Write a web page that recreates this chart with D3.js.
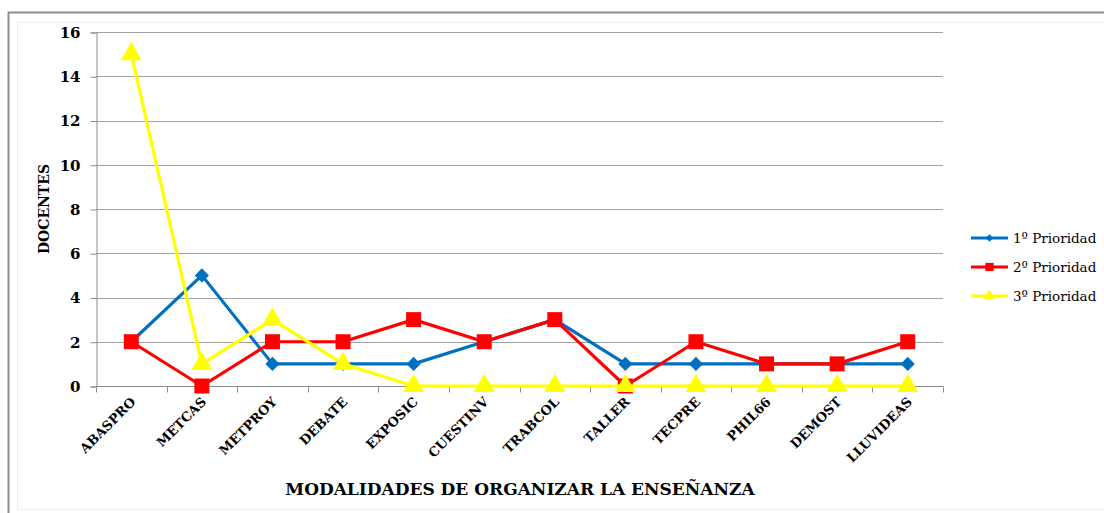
<!DOCTYPE html>
<html>
<head>
<meta charset="utf-8">
<script src="https://cdn.jsdelivr.net/npm/d3@7"></script>
<style>
  body { margin: 0; background: #fff; }
  svg text { font-family: "DejaVu Serif", "Liberation Serif", serif; }
</style>
</head>
<body>
<svg id="chart" width="1104" height="513"></svg>
<script>
var categories = ['ABASPRO', 'METCAS', 'METPROY', 'DEBATE', 'EXPOSIC', 'CUESTINV',
  'TRABCOL', 'TALLER', 'TECPRE', 'PHIL66', 'DEMOST', 'LLUVIDEAS'];
var prioridad1 = [2, 5, 1, 1, 1, 2, 3, 1, 1, 1, 1, 1];
var prioridad2 = [2, 0, 2, 2, 3, 2, 3, 0, 2, 1, 1, 2];
var prioridad3 = [15, 1, 3, 1, 0, 0, 0, 0, 0, 0, 0, 0];
var seriesNames = ['1º Prioridad', '2º Prioridad', '3º Prioridad'];
var yTicks = [0, 2, 4, 6, 8, 10, 12, 14, 16];

// diamond = square turned 45 degrees
var series = [
  {name: seriesNames[0], values: prioridad1, color: '#0070C0', symbol: d3.symbolSquare, size: 100, rot: 45},
  {name: seriesNames[1], values: prioridad2, color: '#FF0000', symbol: d3.symbolSquare, size: 225, rot: 0},
  {name: seriesNames[2], values: prioridad3, color: '#FFFF00', symbol: d3.symbolTriangle, size: 190, rot: 0}
];

var svg = d3.select('#chart');

// chart frame (double border like the original)
svg.append('rect').attr('x', 8.5).attr('y', 12.5).attr('width', 1110).attr('height', 520)
  .attr('fill', 'none').attr('stroke', '#8c8c8c').attr('stroke-width', 2);
svg.append('rect').attr('x', 17.5).attr('y', 22.5).attr('width', 1100).attr('height', 487)
  .attr('fill', 'none').attr('stroke', '#ececec').attr('stroke-width', 1);

var plotLeft = 96, plotRight = 943, plotTop = 32, plotBottom = 386;

var x = d3.scaleBand().domain(categories).range([plotLeft, plotRight]);
var y = d3.scaleLinear().domain([0, 16]).range([plotBottom, plotTop]);

// gridlines
svg.append('g').selectAll('line').data(yTicks.filter(function (d) { return d > 0; })).join('line')
  .attr('x1', plotLeft).attr('x2', plotRight)
  .attr('y1', function (d) { return Math.round(y(d)) + 0.5; })
  .attr('y2', function (d) { return Math.round(y(d)) + 0.5; })
  .attr('stroke', '#a0a0a0').attr('stroke-width', 1);

// y axis
var yAxis = svg.append('g').attr('transform', 'translate(' + (plotLeft + 0.5) + ',0.5)')
  .call(d3.axisLeft(y).tickValues(yTicks).tickSize(6).tickPadding(10));
yAxis.select('.domain').attr('stroke', '#8c8c8c');
yAxis.selectAll('.tick line').attr('stroke', '#8c8c8c');
yAxis.selectAll('.tick text').attr('font-size', 15).attr('font-weight', 'bold').attr('fill', '#000')
  .attr('font-family', '"DejaVu Serif", serif');

// x axis with ticks at category boundaries
var xg = svg.append('g').attr('transform', 'translate(0,' + (plotBottom + 0.5) + ')');
xg.append('line').attr('x1', plotLeft).attr('x2', plotRight).attr('stroke', '#8c8c8c');
var bounds = categories.map(function (c) { return x(c); }).concat([plotRight]);
xg.selectAll('line.tk').data(bounds).join('line').attr('class', 'tk')
  .attr('x1', function (d) { return Math.round(d) + 0.5; })
  .attr('x2', function (d) { return Math.round(d) + 0.5; })
  .attr('y1', 0).attr('y2', 6).attr('stroke', '#8c8c8c');
xg.selectAll('text').data(categories).join('text')
  .attr('transform', function (d) {
    return 'translate(' + (x(d) + x.bandwidth() / 2 + 2) + ',13) rotate(-45)';
  })
  .attr('text-anchor', 'end')
  .attr('dy', '0.35em')
  .attr('font-size', 13).attr('font-weight', 'bold').attr('fill', '#000')
  .text(function (d) { return d; });

// axis titles
svg.append('text').attr('x', 520).attr('y', 495).attr('text-anchor', 'middle')
  .attr('font-size', 17).attr('font-weight', 'bold').text('MODALIDADES DE ORGANIZAR LA ENSEÑANZA');
svg.append('text').attr('transform', 'translate(49,209) rotate(-90)').attr('text-anchor', 'middle')
  .attr('font-size', 14).attr('font-weight', 'bold').text('DOCENTES');

// series lines and markers
var line = d3.line()
  .x(function (d, i) { return x(categories[i]) + x.bandwidth() / 2; })
  .y(function (d) { return y(d); });

series.forEach(function (s) {
  var g = svg.append('g');
  g.append('path').datum(s.values).attr('d', line)
    .attr('fill', 'none').attr('stroke', s.color).attr('stroke-width', 3.2)
    .attr('stroke-linejoin', 'round');
  g.selectAll('path.mk').data(s.values).join('path').attr('class', 'mk')
    .attr('transform', function (d, i) {
      return 'translate(' + (x(categories[i]) + x.bandwidth() / 2) + ',' + y(d) + ') rotate(' + s.rot + ')';
    })
    .attr('d', d3.symbol().type(s.symbol).size(s.size))
    .attr('fill', s.color);
});

// legend
var legend = svg.append('g').attr('transform', 'translate(971,238)');
series.forEach(function (s, i) {
  var g = legend.append('g').attr('transform', 'translate(0,' + (i * 29) + ')');
  g.append('line').attr('x1', 0).attr('x2', 37).attr('stroke', s.color).attr('stroke-width', 3.2);
  g.append('path').attr('transform', 'translate(18.5,0) rotate(' + s.rot + ')')
    .attr('d', d3.symbol().type(s.symbol).size(s.size * 0.3)).attr('fill', s.color);
  g.append('text').attr('x', 42).attr('dy', '0.35em').attr('font-size', 13.5).attr('fill', '#000')
    .text(s.name);
});
</script>
</body>
</html>
